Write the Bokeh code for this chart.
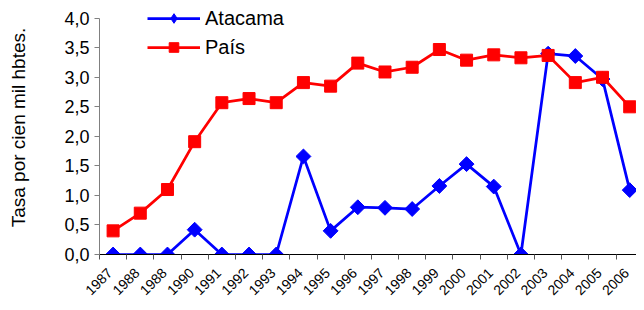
import math
from bokeh.plotting import figure
from bokeh.models import FixedTicker, CustomJSTickFormatter, ColumnDataSource, Range1d, Legend, LegendItem
from bokeh.embed import file_html
from bokeh.resources import INLINE

years = ["1987", "1988", "1988", "1990", "1991", "1992", "1993", "1994", "1995", "1996",
         "1997", "1998", "1999", "2000", "2001", "2002", "2003", "2004", "2005", "2006"]
atacama = [0.0, 0.0, 0.0, 0.42, 0.0, 0.0, 0.0, 1.66, 0.40, 0.80,
           0.79, 0.77, 1.16, 1.53, 1.15, 0.0, 3.40, 3.36, 2.97, 1.09]
pais = [0.40, 0.70, 1.10, 1.91, 2.57, 2.64, 2.57, 2.91, 2.85, 3.24,
        3.09, 3.17, 3.47, 3.29, 3.38, 3.33, 3.37, 2.91, 3.00, 2.50]
y_ticks = [0.0, 0.5, 1.0, 1.5, 2.0, 2.5, 3.0, 3.5, 4.0]

xs = [i + 0.5 for i in range(len(years))]
src = ColumnDataSource(dict(x=xs, atacama=atacama, pais=pais))

p = figure(width=636, height=302, output_backend="svg", toolbar_location=None,
           x_range=Range1d(0, 19.75), y_range=Range1d(0, 4.3),
           min_border_left=99, min_border_top=0, min_border_right=0, min_border_bottom=10)
p.outline_line_color = None
p.xgrid.visible = False
p.ygrid.visible = False
p.background_fill_color = "white"
p.border_fill_color = "white"

FONT = "Liberation Sans"

# x axis
p.xaxis.ticker = FixedTicker(ticks=[x - 0.12 for x in xs], minor_ticks=list(range(0, 21)))
p.xaxis.major_label_overrides = {x - 0.12: lbl for x, lbl in zip(xs, years)}
p.xaxis.major_label_orientation = math.pi / 4
p.xaxis.major_tick_out = 0
p.xaxis.major_tick_in = 0
p.xaxis.minor_tick_out = 5
p.xaxis.minor_tick_in = 0
p.xaxis.minor_tick_line_color = "#555555"
p.xaxis.axis_line_color = "black"
p.xaxis.major_label_text_font = FONT
p.xaxis.major_label_text_font_size = "14px"
p.xaxis.major_label_text_color = "black"
p.xaxis.major_label_standoff = 11

# y axis
p.yaxis.ticker = FixedTicker(ticks=y_ticks, minor_ticks=[])
p.yaxis.bounds = (0, 4.0)
p.yaxis.formatter = CustomJSTickFormatter(code="return tick.toFixed(1).replace('.', ',');")
p.yaxis.axis_line_color = "#808080"
p.yaxis.major_tick_line_color = "#808080"
p.yaxis.major_tick_out = 5
p.yaxis.major_tick_in = 0
p.yaxis.minor_tick_line_color = None
p.yaxis.major_label_text_font = FONT
p.yaxis.major_label_text_font_size = "18px"
p.yaxis.major_label_text_color = "black"
p.yaxis.major_label_standoff = 5
p.yaxis.axis_label = "Tasa por cien mil hbtes."
p.yaxis.axis_label_text_font = FONT
p.yaxis.axis_label_text_font_size = "19px"
p.yaxis.axis_label_text_font_style = "normal"
p.yaxis.axis_label_text_color = "black"
p.yaxis.axis_label_standoff = 32

l1 = p.line("x", "atacama", source=src, line_color="#0000FF", line_width=2.75)
m1 = p.scatter("x", "atacama", source=src, marker="square", angle=math.pi / 4, size=10.5,
               fill_color="#0000FF", line_color="#0000FF")
l2 = p.line("x", "pais", source=src, line_color="#FF0000", line_width=2.75)
m2 = p.scatter("x", "pais", source=src, marker="square", size=12,
               fill_color="#FF0000", line_color="#FF0000")
# legend-only diamond glyph (no visible point in the plot)
m1_leg = p.scatter([float("nan")], [float("nan")], marker="diamond", size=18,
                   fill_color="#0000FF", line_color="#0000FF")

legend = Legend(items=[LegendItem(label="Atacama", renderers=[l1, m1_leg]),
                       LegendItem(label="País", renderers=[l2, m2])],
                location=(48, 195), orientation="vertical")
legend.border_line_color = None
legend.background_fill_alpha = 0
legend.padding = 0
legend.margin = 0
legend.spacing = 5
legend.glyph_width = 53
legend.glyph_height = 24
legend.label_height = 24
legend.label_standoff = 5
legend.label_text_font = FONT
legend.label_text_font_size = "20px"
legend.label_text_color = "black"
p.add_layout(legend, "center")

open("out.html", "w").write(file_html(p, INLINE))
